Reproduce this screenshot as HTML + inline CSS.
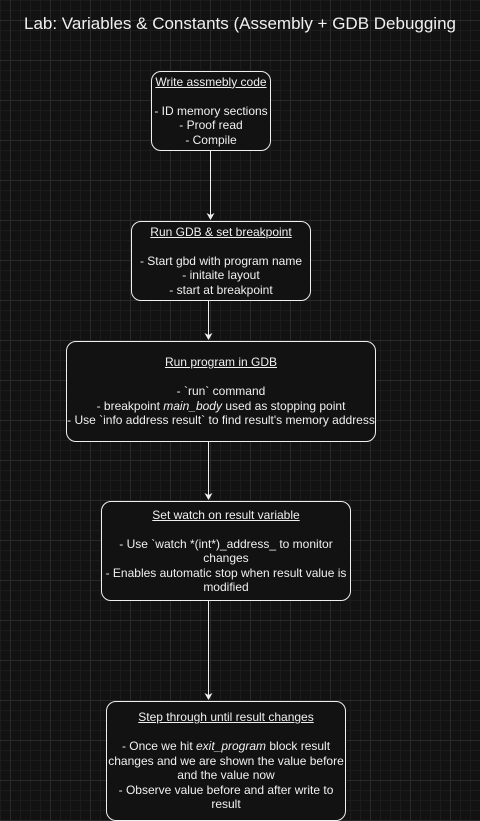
<!DOCTYPE html>
<html><head><style>
body{margin:0;width:480px;height:821px;overflow:hidden;background:#121212;font-family:"Liberation Sans",Arial,sans-serif;position:relative;
background-image:linear-gradient(#2a2a2a 1px,transparent 1px),linear-gradient(90deg,#2a2a2a 1px,transparent 1px),linear-gradient(#1c1c1c 1px,transparent 1px),linear-gradient(90deg,#1c1c1c 1px,transparent 1px);
background-size:40px 40px,40px 40px,10px 10px,10px 10px;background-position:0 20px,10px 0,0 0,0 0;}
.t{position:absolute;left:0;width:480px;top:14px;text-align:center;color:#f0f0f0;font-size:17px}
.b{position:absolute;box-sizing:border-box;border:1px solid #f0f0f0;border-radius:10px;background:#121212;color:#f0f0f0;font-size:12px;line-height:14.5px;text-align:center;display:flex;align-items:center;justify-content:center;white-space:nowrap}
u{text-decoration:underline}
svg{position:absolute;left:0;top:0}
</style></head><body>
<div class="t">Lab: Variables &amp; Constants (Assembly + GDB Debugging</div>
<svg width="480" height="821">
<defs><marker id="a" markerWidth="8" markerHeight="8" refX="6" refY="4" orient="auto" markerUnits="userSpaceOnUse"><path d="M0,0 L7,4 L0,8 L2,4z" fill="#f0f0f0"/></marker></defs>
<g stroke="#f0f0f0" stroke-width="1">
<line x1="210.5" y1="150" x2="210.5" y2="219" marker-end="url(#a)"/>
<line x1="208.5" y1="300" x2="208.5" y2="339" marker-end="url(#a)"/>
<line x1="208.5" y1="441" x2="208.5" y2="499" marker-end="url(#a)"/>
<line x1="208.5" y1="600" x2="208.5" y2="699" marker-end="url(#a)"/>
</g></svg>
<div class="b" style="left:151px;top:71px;width:120px;height:80px"><div><u>Write assmebly code</u><br><br>- ID memory sections<br>- Proof read<br>- Compile</div></div>
<div class="b" style="left:131px;top:221px;width:180px;height:80px"><div><u>Run GDB &amp; set breakpoint</u><br><br>- Start gbd with program name<br>- initaite layout<br>- start at breakpoint</div></div>
<div class="b" style="left:66px;top:341px;width:310px;height:101px"><div><u>Run program in GDB</u><br><br>- `run` command<br>- breakpoint <i>main_body</i> used as stopping point<br>- Use `info address result` to find result's memory address</div></div>
<div class="b" style="left:101px;top:501px;width:250px;height:100px"><div><u>Set watch on result variable</u><br><br>- Use `watch *(int*)_address_ to monitor<br>changes<br>- Enables automatic stop when result value is<br>modified</div></div>
<div class="b" style="left:106px;top:701px;width:240px;height:120px"><div><u>Step through until result changes</u><br><br>- Once we hit <i>exit_program</i> block result<br>changes and we are shown the value before<br>and the value now<br>- Observe value before and after write to<br>result</div></div>
</body></html>
